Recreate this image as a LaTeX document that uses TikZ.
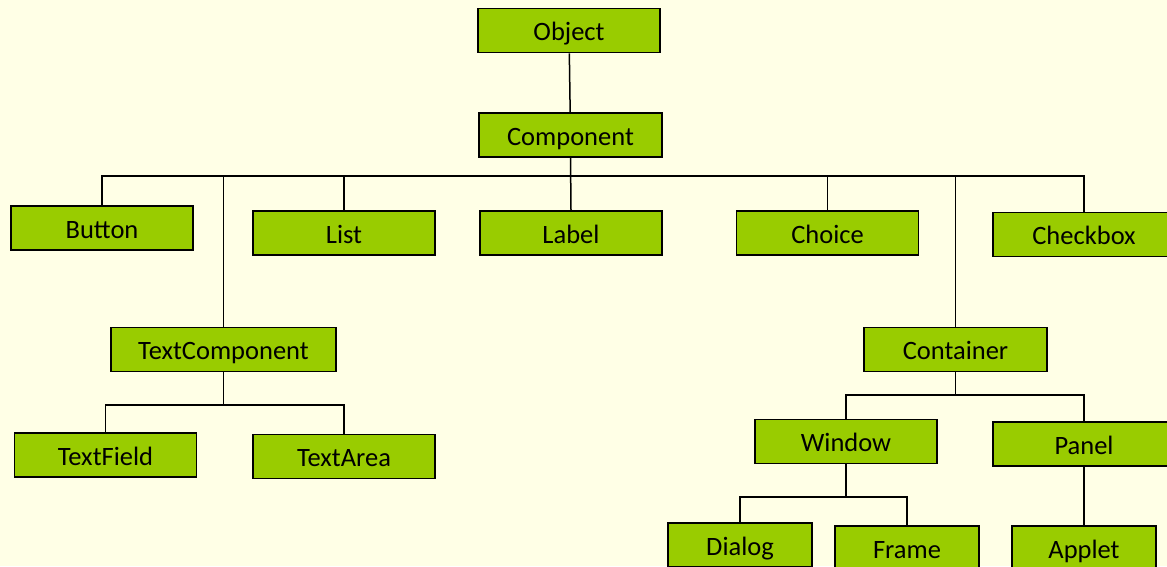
\documentclass[tikz,border=0pt]{standalone}
\usepackage{fontspec}
\setmainfont{Carlito}
\definecolor{bg}{HTML}{FFFFE6}
\definecolor{boxgreen}{HTML}{99CC00}
\begin{document}
\begin{tikzpicture}[x=1pt,y=-1pt,
  cls/.style={draw=black, line width=1.6pt, fill=boxgreen, minimum height=44pt,
    inner sep=0pt, text height=20pt, text depth=0pt,
    font=\fontsize{26.5}{30}\selectfont, text=black},
  wide/.style={cls, minimum width=182pt},
  narrow/.style={cls, minimum width=144pt},
  link/.style={line width=1.5pt, black},
  heavy/.style={line width=2.6pt, black}]
\fill[bg] (0,0) rectangle (1167,566);
\useasboundingbox (0,0) rectangle (1167,566);

\node[wide] (object) at (569,30.5) {Object};
\node[wide, minimum width=183pt] (component) at (570.5,135) {Component};
\node[wide] (button) at (102,228) {Button};
\node[wide] (list) at (344,233) {List};
\node[wide] (label) at (571,233) {Label};
\node[wide] (choice) at (827.5,233) {Choice};
\node[wide] (checkbox) at (1084,234.5) {Checkbox};
\node[wide, minimum width=225pt] (textcomp) at (223.5,349.5) {TextComponent};
\node[wide, minimum width=183pt] (container) at (955.5,349.5) {Container};
\node[wide] (textfield) at (105.5,455) {TextField};
\node[wide] (textarea) at (344,456.5) {TextArea};
\node[wide] (window) at (846,441.5) {Window};
\node[wide] (panel) at (1084,444) {Panel};
\node[narrow] (dialog) at (740,545) {Dialog};
\node[narrow] (frame) at (907,548) {Frame};
\node[narrow] (applet) at (1084,548) {Applet};

\coordinate (busA) at (0,176);
\coordinate (busB) at (0,405);
\coordinate (busC) at (0,395);
\coordinate (busD) at (0,497);

\draw[link] (object) -- (component);
\draw[link] (component.south) -- (component.south |- busA) -| (button.north);
\draw[link] (component.south) -- (component.south |- busA) -| (textcomp.north);
\draw[link] (component.south) -- (component.south |- busA) -| (list.north);
\draw[link] (component.south) -- (label.north);
\draw[link] (component.south) -- (component.south |- busA) -| (choice.north);
\draw[link] (component.south) -- (component.south |- busA) -| (container.north);
\draw[link] (component.south) -- (component.south |- busA) -| (checkbox.north);
\draw[heavy] (list.north |- busA) -- (choice.north |- busA);

\draw[link] (textcomp.south) -- (textcomp.south |- busB) -| (textfield.north);
\draw[link] (textcomp.south) -- (textcomp.south |- busB) -| (textarea.north);

\draw[link] (container.south) -- (container.south |- busC) -| (window.north);
\draw[link] (container.south) -- (container.south |- busC) -| (panel.north);

\draw[link] (window.south) -- (window.south |- busD) -| (dialog.north);
\draw[link] (window.south) -- (window.south |- busD) -| (frame.north);
\draw[link] (panel) -- (applet);
\end{tikzpicture}
\end{document}
